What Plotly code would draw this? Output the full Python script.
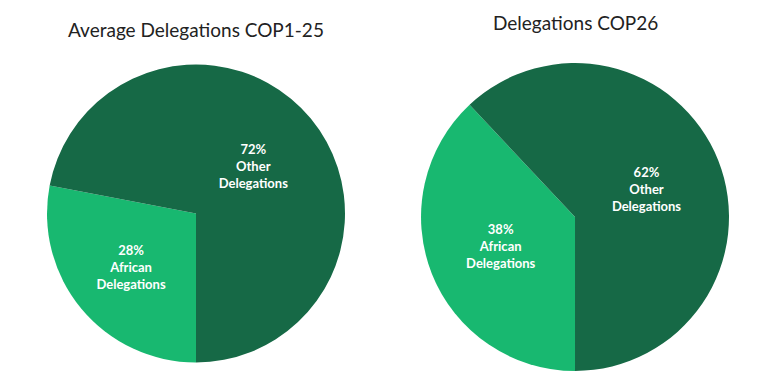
import plotly.graph_objects as go

categories = ["African", "Other"]
cop1_25 = [28, 72]
cop26 = [38, 62]
titles = ["Average Delegations COP1-25", "Delegations COP26"]
colors = ["#18b870", "#166946"]

def make_text(vals):
    return [f"{v}%<br>{c}<br>Delegations" for v, c in zip(vals, categories)]

common = dict(
    textinfo="text", textposition="inside", insidetextorientation="horizontal",
    sort=False, direction="clockwise", rotation=180,
    marker=dict(colors=colors, line=dict(width=0)),
    textfont=dict(family="Lato", size=13, color="white", weight="bold"),
    showlegend=False, hoverinfo="label+percent",
)

fig = go.Figure()
fig.add_trace(go.Pie(labels=categories, values=cop1_25, text=make_text(cop1_25),
                     domain=dict(x=[0.0508, 0.4388], y=[0.0768, 0.8529]), **common))
fig.add_trace(go.Pie(labels=categories, values=cop26, text=make_text(cop26),
                     domain=dict(x=[0.5378, 0.9388], y=[0.0547, 0.8568]), **common))
fig.add_annotation(text=titles[0], x=188/768, y=1-22/384, xref="paper", yref="paper",
                   xanchor="center", yanchor="middle",
                   showarrow=False, font=dict(family="Lato", size=19, color="#222222"))
fig.add_annotation(text=titles[1], x=567/768, y=1-14/384, xref="paper", yref="paper",
                   xanchor="center", yanchor="middle",
                   showarrow=False, font=dict(family="Lato", size=19, color="#222222"))
fig.update_layout(width=768, height=384, margin=dict(l=0, r=0, t=0, b=0),
                  paper_bgcolor="white", plot_bgcolor="white")
fig.write_html("out.html")
